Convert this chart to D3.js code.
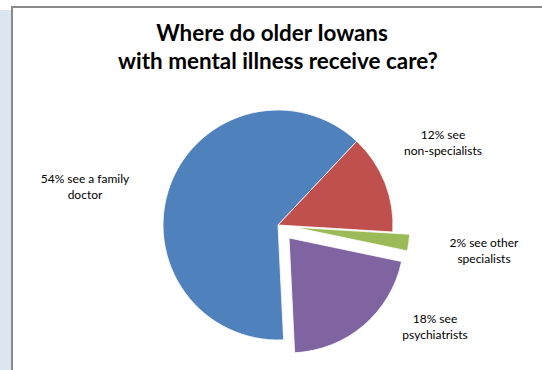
<!DOCTYPE html>
<html>
<head>
<meta charset="utf-8">
<script src="https://cdn.jsdelivr.net/npm/d3@7"></script>
<style>
  html, body { margin: 0; padding: 0; background: #ffffff; }
  svg { display: block; }
</style>
</head>
<body>
<svg id="chart" width="542" height="370"></svg>
<script>
// ---- data ----
const titleLines = ["Where do older Iowans", "with mental illness receive care?"];
const categories = ["family doctor", "non-specialists", "other specialists", "psychiatrists"];
const values = [54, 12, 2, 18];
const labelLines = [
  ["54% see a family", "doctor"],
  ["12% see", "non-specialists"],
  ["2% see other", "specialists"],
  ["18% see", "psychiatrists"]
];
const colors = ["#4F81BD", "#C0504D", "#9BBB59", "#8064A2"];
const exploded = [false, false, true, true];

// ---- layout ----
const W = 542, H = 370;
const cx = 278, cy = 225, R = 115, explodeDist = 17;
const startDeg = 177.2;
const labelPos = [ [85, 183], [443, 139], [484, 247], [435, 323] ]; // first-line baselines
const lineGap = 16;

const svg = d3.select("#chart");

// background + frame
svg.append("rect").attr("x", 0).attr("y", 0).attr("width", W).attr("height", H).attr("fill", "#ffffff");
svg.append("rect").attr("x", 0).attr("y", 10).attr("width", 11).attr("height", H - 10).attr("fill", "#dce6f2");
svg.append("rect").attr("x", 12).attr("y", 7).attr("width", W + 10).attr("height", H + 10)
  .attr("fill", "#ffffff").attr("stroke", "#8a8a8a").attr("stroke-width", 2);

// title
const title = svg.append("g").attr("font-family", "Lato, 'Open Sans', sans-serif")
  .attr("font-weight", "bold").attr("fill", "#000");
const t1 = title.append("text").attr("x", 272).attr("y", 41).attr("text-anchor", "middle")
  .attr("font-size", 20).text(titleLines[0]);
const t2 = title.append("text").attr("x", 278).attr("y", 69).attr("text-anchor", "middle")
  .attr("font-size", 20).text(titleLines[1]);
{
  const w = t2.node().getComputedTextLength();
  const fs = 20 * 320 / w;
  t1.attr("font-size", fs); t2.attr("font-size", fs);
}

// pie
const deg = Math.PI / 180;
const pie = d3.pie().sort(null).value(d => d)
  .startAngle(startDeg * deg).endAngle((startDeg + 360) * deg);
const arcs = pie(values);
const arc = d3.arc().innerRadius(0).outerRadius(R);

const g = svg.append("g").attr("transform", `translate(${cx},${cy})`);
g.selectAll("path").data(arcs).enter().append("path")
  .attr("d", arc)
  .attr("fill", (d, i) => colors[i])
  .attr("stroke", "#ffffff").attr("stroke-width", 0.8)
  .attr("transform", (d, i) => {
    if (!exploded[i]) return null;
    const mid = (d.startAngle + d.endAngle) / 2;
    return `translate(${explodeDist * Math.sin(mid)},${-explodeDist * Math.cos(mid)})`;
  });

// labels
const lg = svg.append("g").attr("font-family", "Lato, 'Open Sans', sans-serif")
  .attr("fill", "#000").attr("font-size", 12);
const labels = lg.selectAll("text").data(labelLines).enter().append("text")
  .attr("text-anchor", "middle")
  .attr("x", (d, i) => labelPos[i][0]).attr("y", (d, i) => labelPos[i][1]);
labels.selectAll("tspan").data((d, i) => d.map(s => ({ s, i }))).enter().append("tspan")
  .attr("x", d => labelPos[d.i][0])
  .attr("dy", (d, j) => j === 0 ? 0 : lineGap)
  .text(d => d.s);
{
  const probe = lg.append("text").text("non-specialists");
  const w = probe.node().getComputedTextLength();
  probe.remove();
  lg.attr("font-size", 12 * 78 / w);
}
</script>
</body>
</html>
